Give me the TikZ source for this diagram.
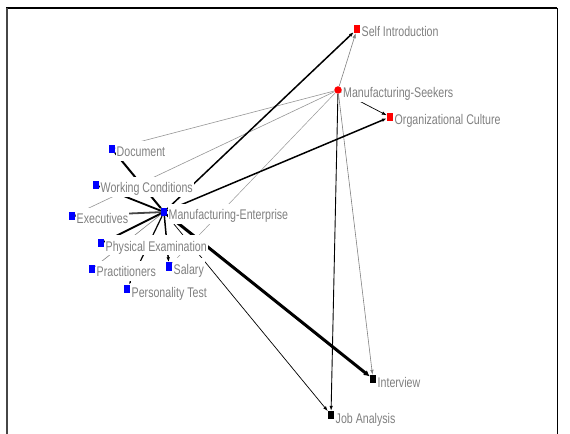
\documentclass[tikz,border=0pt]{standalone}
\usepackage{fontspec}
\newfontfamily\labfont{Liberation Sans}[FakeStretch=0.76]
\usetikzlibrary{arrows.meta,calc}
\definecolor{labgray}{RGB}{128,128,128}
\definecolor{lgray}{RGB}{150,150,150}
\definecolor{dgray}{RGB}{70,70,70}
\begin{document}
\begin{tikzpicture}[x=1bp,y=-1bp,
  sq/.style={rectangle,minimum width=6bp,minimum height=8bp,inner sep=0pt,draw=none},
  bsq/.style={sq,fill=blue},
  rsq/.style={sq,fill=red},
  ksq/.style={sq,fill=black},
  rdot/.style={circle,minimum size=7.5bp,inner sep=0pt,fill=red},
  lab/.style={anchor=base west,fill=white,text=labgray,font=\labfont\fontsize{14bp}{16bp}\selectfont,
    inner xsep=1bp,inner ysep=0.5bp,text height=15.5bp,text depth=3.5bp},
  arr/.style={-{Latex[length=5bp,width=3.5bp]}},
  bigarr/.style={-{Latex[length=6bp,width=6bp]}},
  frame/.style={line width=1.5bp,black},
]
\useasboundingbox (0,0) rectangle (570,434);
% frame
\draw[frame] (6,8) -- (557,8);
\draw[line width=2bp,dgray] (7,8) -- (7,434);
\draw[line width=1bp,black] (557,8) -- (557,434);

% nodes
\node[rsq] (si) at (357,29) {};
\node[rdot] (ms) at (338,90) {};
\node[rsq] (oc) at (390,117) {};
\node[bsq] (doc) at (112,149) {};
\node[bsq] (wc) at (96,185) {};
\node[bsq] (ex) at (72,216) {};
\node[bsq] (me) at (164,212) {};
\node[bsq] (pe) at (101,243.5) {};
\node[bsq] (pr) at (92,269) {};
\node[bsq] (sa) at (169,266.5) {};
\node[bsq] (pt) at (127,289) {};
\node[ksq] (iv) at (373,379) {};
\node[ksq] (ja) at (331,415) {};

% edges from Manufacturing-Seekers
\draw[line width=0.6bp,lgray] (ms) -- (doc);
\draw[line width=0.6bp,lgray] (ms) -- (ex);
\draw[line width=0.5bp,lgray] (ms) -- (sa);
\draw[line width=0.6bp,gray,arr] (ms) -- (si);
\draw[line width=0.7bp,black,arr] (ms) -- (oc);
\draw[line width=0.9bp,black,arr] (ms) -- (ja);
\draw[line width=0.6bp,gray,arr] (ms) -- (iv);

% edges from Manufacturing-Enterprise
\draw[line width=1.5bp,arr] (me) -- (si);
\draw[line width=1.5bp,arr] (me) -- (oc);
\draw[line width=3bp,bigarr] (me) -- (iv);
\draw[line width=0.7bp,arr] (me) -- (ja);
\draw[line width=2bp] (me) -- (doc);
\draw[line width=1.8bp] (me) -- (wc);
\draw[line width=1.8bp,dgray] (me) -- (ex);
\draw[line width=1.8bp] (me) -- (pe);
\draw[line width=0.6bp,gray] (me) -- (pr);
\draw[line width=1.2bp,arr] (me) -- (pt);
\draw[line width=1.5bp,arr] (me) -- (sa);

% labels
\node[lab] (siL) at ($(si)+(3.5,8)$) {Self Introduction};
\node[lab] (msL) at ($(ms)+(4,8)$) {Manufacturing-Seekers};
\node[lab] (ocL) at ($(oc)+(3.5,8)$) {Organizational Culture};
\node[lab] (docL) at ($(doc)+(3.5,8)$) {Document};
\node[lab] (wcL) at ($(wc)+(3.5,8)$) {Working Conditions};
\node[lab] (exL) at ($(ex)+(3.5,8)$) {Executives};
\node[lab] (meL) at ($(me)+(3.5,8)$) {Manufacturing-Enterprise};
\node[lab] (peL) at ($(pe)+(3.5,8)$) {Physical Examination};
\node[lab] (prL) at ($(pr)+(3.5,8)$) {Practitioners};
\node[lab] (saL) at ($(sa)+(3.5,8)$) {Salary};
\node[lab] (ptL) at ($(pt)+(3.5,8)$) {Personality Test};
\node[lab] (ivL) at ($(iv)+(3.5,8)$) {Interview};
\node[lab] (jaL) at ($(ja)+(3.5,8)$) {Job Analysis};
\end{tikzpicture}
\end{document}
